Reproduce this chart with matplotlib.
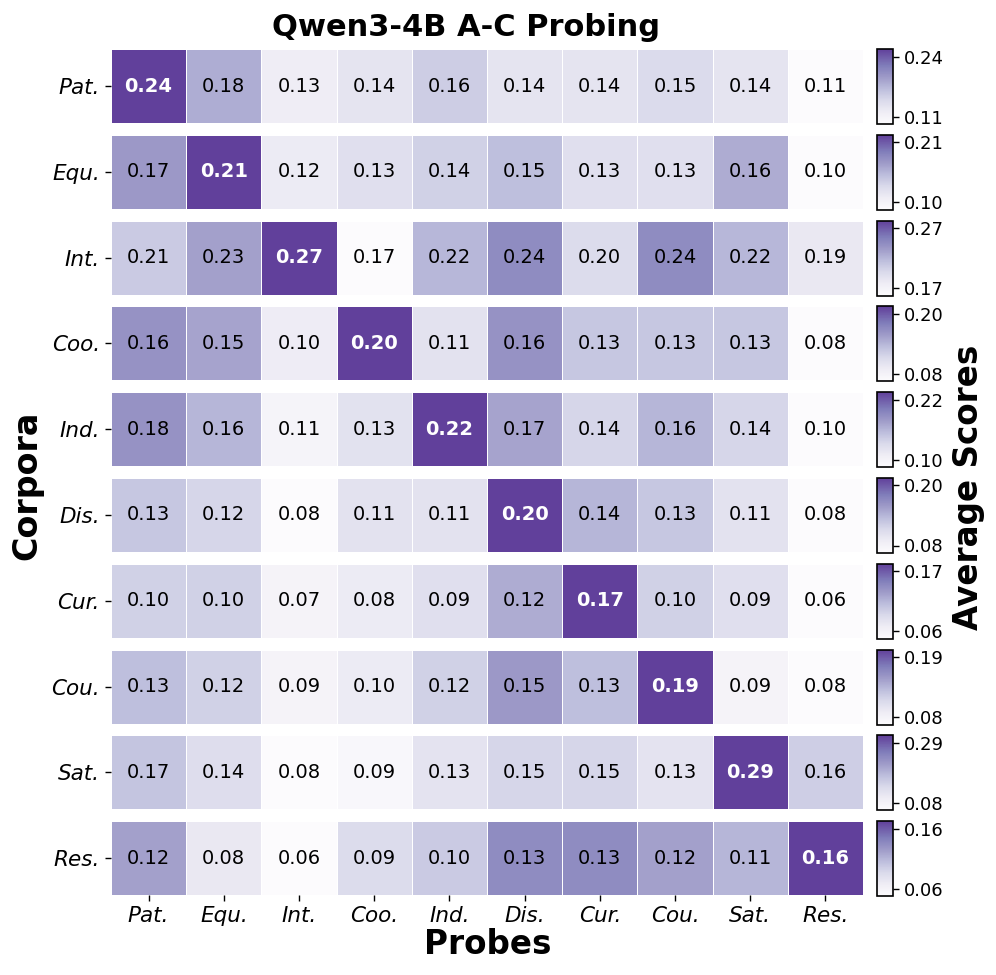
import numpy as np
import matplotlib
matplotlib.use('Agg')
import matplotlib.pyplot as plt
from matplotlib.colors import ListedColormap

probes = ['Pat.', 'Equ.', 'Int.', 'Coo.', 'Ind.', 'Dis.', 'Cur.', 'Cou.', 'Sat.', 'Res.']
corpora = ['Pat.', 'Equ.', 'Int.', 'Coo.', 'Ind.', 'Dis.', 'Cur.', 'Cou.', 'Sat.', 'Res.']

pat = [0.24, 0.18, 0.13, 0.14, 0.16, 0.14, 0.14, 0.15, 0.14, 0.11]
equ = [0.17, 0.21, 0.12, 0.13, 0.14, 0.15, 0.13, 0.13, 0.16, 0.10]
int_ = [0.21, 0.23, 0.27, 0.17, 0.22, 0.24, 0.20, 0.24, 0.22, 0.19]
coo = [0.16, 0.15, 0.10, 0.20, 0.11, 0.16, 0.13, 0.13, 0.13, 0.08]
ind = [0.18, 0.16, 0.11, 0.13, 0.22, 0.17, 0.14, 0.16, 0.14, 0.10]
dis = [0.13, 0.12, 0.08, 0.11, 0.11, 0.20, 0.14, 0.13, 0.11, 0.08]
cur = [0.10, 0.10, 0.07, 0.08, 0.09, 0.12, 0.17, 0.10, 0.09, 0.06]
cou = [0.13, 0.12, 0.09, 0.10, 0.12, 0.15, 0.13, 0.19, 0.09, 0.08]
sat = [0.17, 0.14, 0.08, 0.09, 0.13, 0.15, 0.15, 0.13, 0.29, 0.16]
res = [0.12, 0.08, 0.06, 0.09, 0.10, 0.13, 0.13, 0.12, 0.11, 0.16]
rows = [pat, equ, int_, coo, ind, dis, cur, cou, sat, res]

cmap = ListedColormap(plt.cm.Purples(np.linspace(0.0, 0.8, 256)))

W, H = 996, 975
fig = plt.figure(figsize=(W/100, H/100), dpi=100)

left, right = 111/W, 863/W
top0 = 49
pitch = 85.8
rh = 74
cb_left, cb_w = 877/W, 16/W

for i, (name, vals) in enumerate(zip(corpora, rows)):
    v = np.array(vals)[None, :]
    y_top = top0 + i*pitch
    ax = fig.add_axes([left, 1-(y_top+rh)/H, right-left, rh/H])
    vmin, vmax = v.min(), v.max()
    m = ax.pcolormesh(v, cmap=cmap, vmin=vmin, vmax=vmax, edgecolors='white', linewidth=0.6)
    ax.set_xlim(0, 10); ax.set_ylim(0, 1)
    for s in ax.spines.values(): s.set_visible(False)
    ax.set_yticks([0.5]); ax.set_yticklabels([name], fontsize=15.5, style='italic')
    ax.tick_params(axis='y', length=4, width=1, pad=4)
    jmax = int(np.argmax(v[0]))
    for j, val in enumerate(v[0]):
        if j == jmax:
            ax.text(j+0.5, 0.5, f'{val:.2f}', ha='center', va='center', fontsize=14, color='white', fontweight='bold')
        else:
            ax.text(j+0.5, 0.5, f'{val:.2f}', ha='center', va='center', fontsize=14, color='black')
    if i == len(rows)-1:
        ax.set_xticks(np.arange(10)+0.5)
        ax.set_xticklabels(probes, fontsize=15.5, style='italic')
        ax.tick_params(axis='x', length=4, width=1)
    else:
        ax.set_xticks([])
    cax = fig.add_axes([cb_left, 1-(y_top+rh+1)/H, cb_w, (rh+1)/H])
    cb = fig.colorbar(m, cax=cax)
    r = vmax - vmin
    cb.set_ticks([vmin + 0.1*r, vmax - 0.1*r])
    cb.set_ticklabels([f'{vmin:.2f}', f'{vmax:.2f}'])
    cb.ax.tick_params(labelsize=13, length=4, width=1)
    cb.outline.set_linewidth(1.2)

fig.text(466/W, 1-27/H, 'Qwen3-4B A-C Probing', ha='center', va='center', fontsize=22, fontweight='bold')
fig.text(488/W, 1-944/H, 'Probes', ha='center', va='center', fontsize=23.5, fontweight='bold')
fig.text(27/W, 1-485/H, 'Corpora', ha='center', va='center', fontsize=24, fontweight='bold', rotation=90)
fig.text(968/W, 1-487/H, 'Average Scores', ha='center', va='center', fontsize=23.5, fontweight='bold', rotation=90)

fig.savefig('out.png', dpi=100)
